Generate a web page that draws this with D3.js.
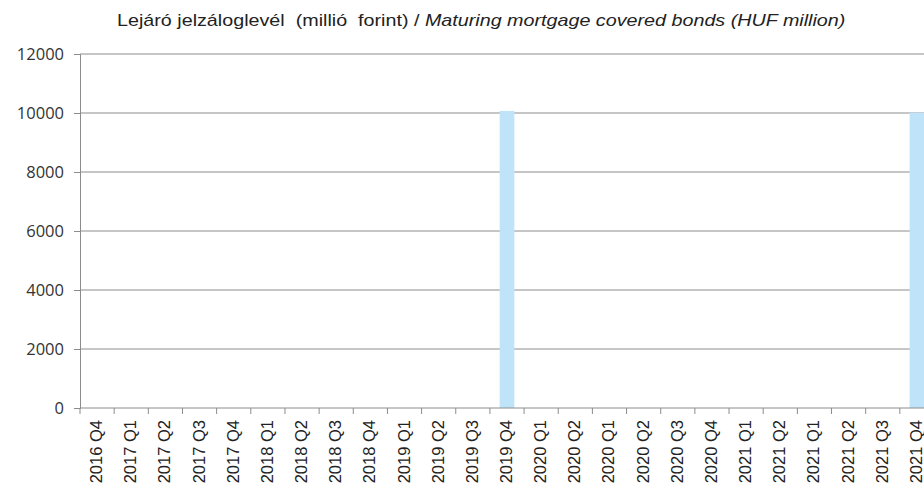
<!DOCTYPE html>
<html>
<head>
<meta charset="utf-8">
<script src="https://cdn.jsdelivr.net/npm/d3@7"></script>
<style>
  body { margin: 0; background: #fff; }
  svg { display: block; }
</style>
</head>
<body>
<svg width="924" height="483"></svg>
<script>
// categories as printed on the axis (some labels repeat in the source)
var quarters = ["2016 Q4", "2017 Q1", "2017 Q2", "2017 Q3", "2017 Q4",
    "2018 Q1", "2018 Q2", "2018 Q3", "2018 Q4",
    "2019 Q1", "2019 Q2", "2019 Q3", "2019 Q4",
    "2020 Q1", "2020 Q2", "2020 Q1", "2020 Q2", "2020 Q3", "2020 Q4",
    "2021 Q1", "2021 Q2", "2021 Q1", "2021 Q2", "2021 Q3", "2021 Q4"];
var maturing = [0, 0, 0, 0, 0, 0, 0, 0, 0, 0, 0, 0, 10070,
    0, 0, 0, 0, 0, 0, 0, 0, 0, 0, 0, 10010];
var yTicks = [0, 2000, 4000, 6000, 8000, 10000, 12000];

let margin = {top: 54, left: 80};
let plotWidth = 854, plotHeight = 354;

var svg = d3.select('svg');
var g = svg.append('g')
    .attr('transform', `translate(${margin.left}, ${margin.top})`);

var x = d3.scaleBand()
    .domain(d3.range(quarters.length))
    .range([0, plotWidth])
    .paddingInner(0.57)
    .paddingOuter(0.285);

var y = d3.scaleLinear()
    .domain([0, 12000])
    .range([plotHeight, 0]);

// gridlines
g.selectAll('.grid')
    .data(yTicks.slice(1))
    .enter()
    .append('line')
    .attr('x1', 0)
    .attr('x2', plotWidth)
    .attr('y1', d => y(d))
    .attr('y2', d => y(d))
    .attr('stroke', '#8c8c8c')
    .attr('stroke-width', 1);

// bars
g.selectAll('.bar')
    .data(maturing)
    .enter()
    .append('rect')
    .attr('x', (d, i) => x(i))
    .attr('y', d => y(d))
    .attr('width', x.bandwidth())
    .attr('height', d => plotHeight - y(d))
    .attr('fill', '#bfe4f9');

// y axis
var yAxis = g.append('g')
    .call(d3.axisLeft(y).tickValues(yTicks).tickSize(6).tickPadding(10).tickFormat(d3.format('d')));
yAxis.select('.domain').attr('stroke', '#8c8c8c');
yAxis.selectAll('.tick line').attr('stroke', '#8c8c8c');
yAxis.selectAll('text')
    .attr('font-family', '"Open Sans", sans-serif')
    .attr('font-size', '16.5px')
    .attr('fill', '#333');

// x axis: ticks at category boundaries
var xAxis = g.append('g')
    .attr('transform', `translate(0, ${plotHeight})`);
xAxis.append('line')
    .attr('x1', 0).attr('x2', plotWidth)
    .attr('stroke', '#8c8c8c');
xAxis.selectAll('.xtick')
    .data(d3.range(quarters.length + 1))
    .enter()
    .append('line')
    .attr('x1', i => i * x.step())
    .attr('x2', i => i * x.step())
    .attr('y1', 0)
    .attr('y2', 6)
    .attr('stroke', '#8c8c8c');
xAxis.selectAll('.xlabel')
    .data(quarters)
    .enter()
    .append('text')
    .attr('transform', (d, i) => `translate(${x(i) + x.bandwidth() / 2 + 5}, 12) rotate(-90)`)
    .attr('text-anchor', 'end')
    .attr('font-family', '"Liberation Sans", Arial, sans-serif')
    .attr('font-size', '16.5px')
    .attr('fill', '#222')
    .text(d => d);

// title, stretched a little sideways like the original (keeps the double spaces)
var title = svg.append('text')
    .attr('transform', 'translate(117, 26) scale(1.16, 1)')
    .attr('font-family', '"Liberation Sans", Arial, sans-serif')
    .attr('font-size', '17px')
    .attr('fill', '#222')
    .style('white-space', 'pre');
title.append('tspan').text('Lejáró jelzáloglevél  (millió  forint) / ');
title.append('tspan').attr('font-style', 'italic').text('Maturing mortgage covered bonds (HUF million)');
</script>
</body>
</html>
